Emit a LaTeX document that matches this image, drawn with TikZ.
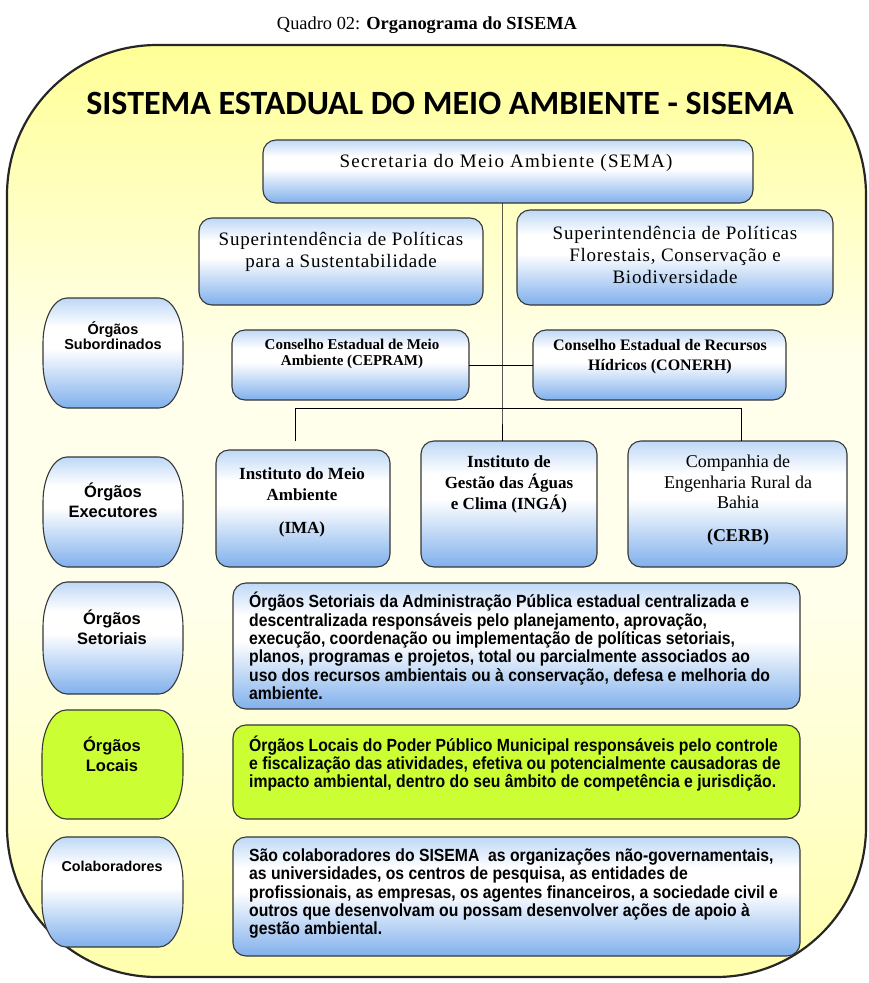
\documentclass[tikz,border=0pt]{standalone}
\usepackage{fontspec}
\setmainfont{Liberation Serif}
\newfontfamily\capfont{Liberation Serif}
\newfontfamily\ttlfont{Carlito}
\newfontfamily\serfont[LetterSpace=4]{Liberation Serif}
\newfontfamily\serwide[LetterSpace=7]{Liberation Serif}
\newfontfamily\narfont[FakeStretch=0.895]{Liberation Sans}
\newfontfamily\sansfont{Liberation Sans}
\usetikzlibrary{calc}
\definecolor{bT}{RGB}{190,216,246}
\definecolor{bB}{RGB}{128,176,236}
\definecolor{yT}{RGB}{255,255,150}
\definecolor{yM}{RGB}{255,255,236}
\definecolor{yB}{RGB}{255,255,172}
\definecolor{grn}{RGB}{204,255,51}
\definecolor{edge}{RGB}{55,55,55}
\pgfdeclareverticalshading{boxblue}{100bp}{color(0bp)=(bB); color(25bp)=(bB); color(52bp)=(white); color(62bp)=(white); color(75bp)=(bT); color(100bp)=(bT)}
\pgfdeclareverticalshading{bgyel}{100bp}{color(0bp)=(yB); color(25bp)=(yB); color(45bp)=(yM); color(58bp)=(yM); color(75bp)=(yT); color(100bp)=(yT)}
\newcommand\placebox[6]{\node[#1, minimum width={#5pt-#3pt}, minimum height={#6pt-#4pt}] (#2) at ({(#3+#5)/2},{(#4+#6)/2}) {};}
\newcommand\barrelpath[2]{%
  \path[#2] let \p1=(#1.north west), \p2=(#1.south east) in
    (\x1+24pt,\y1) -- (\x2-24pt,\y1)
    .. controls (\x2-10.8pt,\y1) and (\x2,\y1-20.2pt) .. (\x2,\y1-45pt)
    -- (\x2,\y2+45pt)
    .. controls (\x2,\y2+20.2pt) and (\x2-10.8pt,\y2) .. (\x2-24pt,\y2)
    -- (\x1+24pt,\y2)
    .. controls (\x1+10.8pt,\y2) and (\x1,\y2+20.2pt) .. (\x1,\y2+45pt)
    -- (\x1,\y1-45pt)
    .. controls (\x1,\y1-20.2pt) and (\x1+10.8pt,\y1) .. cycle;}
\tikzset{
  frame/.style={draw=black!85, line width=2.2pt, shading=bgyel, rounded corners=150pt, inner sep=0pt, outer sep=0pt},
  bluebox/.style={draw=edge, line width=1.1pt, shading=boxblue, rounded corners=13pt, inner sep=0pt, outer sep=0pt},
  greenbox/.style={draw=edge, line width=1.1pt, fill=grn, rounded corners=13pt, inner sep=0pt, outer sep=0pt},
  barrelnode/.style={inner sep=0pt, outer sep=0pt},
  barrelblue/.style={draw=edge, line width=1.1pt, shading=boxblue},
  barrelgreen/.style={draw=edge, line width=1.1pt, fill=grn},
  conn/.style={draw=black, line width=0.9pt},
  sertxt/.style={font=\serfont\fontsize{19}{22.5}\selectfont, align=center, inner sep=0pt},
  bsertxt/.style={font=\capfont\bfseries\fontsize{17}{21}\selectfont, align=center, inner sep=0pt},
  lbltxt/.style={font=\sansfont\bfseries\fontsize{16.5}{20}\selectfont, align=center, inner sep=0pt},
  desctxt/.style={font=\narfont\bfseries\fontsize{17.6}{18.4}\selectfont, align=left, inner sep=0pt, anchor=west},
}
\begin{document}
\begin{tikzpicture}[x=1pt,y=-1pt]
\useasboundingbox (0,0) rectangle (869,983);
\fill[white] (0,0) rectangle (869,983);
% caption
\node[inner sep=0pt, font=\capfont\fontsize{18.4}{20}\selectfont] (caption) at (427,25) {Quadro 02: \textbf{Organograma do SISEMA}};
% frame
\placebox{frame}{frame}{7}{45}{866}{977}
\node[inner sep=0pt, font=\ttlfont\bfseries\fontsize{34}{36}\selectfont] (title) at (440,103) {SISTEMA ESTADUAL DO MEIO AMBIENTE - SISEMA};
% boxes
\placebox{bluebox}{sema}{263}{140}{753}{203}
\placebox{bluebox}{sust}{199}{218}{483}{305}
\placebox{bluebox}{flor}{517}{210}{833}{305}
\placebox{bluebox}{cepram}{232}{330}{469}{400}
\placebox{bluebox}{conerh}{533}{330}{786}{400}
\placebox{bluebox}{ima}{216}{450}{390}{567}
\placebox{bluebox}{inga}{421}{441}{597}{567}
\placebox{bluebox}{cerb}{628}{441}{847}{567}
\placebox{bluebox}{setor}{233}{583}{800}{709}
\placebox{greenbox}{locais}{233}{725}{800}{819}
\placebox{bluebox}{colab}{233}{837}{800}{956}
% left column
\placebox{barrelnode}{lsub}{43}{298}{183}{408}
\placebox{barrelnode}{lexe}{43}{457}{183}{567}
\placebox{barrelnode}{lset}{43}{582}{183}{694}
\placebox{barrelnode}{lloc}{42}{710}{183}{819}
\placebox{barrelnode}{lcol}{42}{837}{183}{947}
\barrelpath{lsub}{barrelblue}
\barrelpath{lexe}{barrelblue}
\barrelpath{lset}{barrelblue}
\barrelpath{lloc}{barrelgreen}
\barrelpath{lcol}{barrelblue}
% connectors
\coordinate (trunk) at (502,408);
\coordinate (barL) at (295,408);
\coordinate (barR) at (741,408);
\coordinate (imaTop) at (295,441);
\draw[conn] (sema.south -| trunk) -- (trunk) -- (inga.north -| trunk);
\draw[conn] (imaTop) -- (barL) -- (barR) -- (cerb.north -| barR);
\draw[conn] (cepram.east) -- (conerh.west);
% texts
\node[font=\serwide\fontsize{19}{22}\selectfont, inner sep=0pt] (sema-t) at (506,163) {Secretaria do Meio Ambiente (SEMA)};
\node[sertxt] (sust-t) at (341,252) {Superintendência de Políticas\\para a Sustentabilidade};
\node[sertxt, font=\serfont\fontsize{19}{22}\selectfont] (flor-t) at (675,255) {Superintendência de Políticas\\Florestais, Conservação e\\Biodiversidade};
\node[bsertxt, font=\capfont\bfseries\fontsize{15}{16}\selectfont] (cepram-t) at (352,354) {Conselho Estadual de Meio\\Ambiente (CEPRAM)};
\node[bsertxt, font=\capfont\bfseries\fontsize{16}{20}\selectfont] (conerh-t) at (660,357) {Conselho Estadual de Recursos\\Hídricos (CONERH)};
\node[bsertxt] (ima-t) at (302,502) {Instituto do Meio\\Ambiente\\[12pt](IMA)};
\node[bsertxt] (inga-t) at (509,484) {Instituto de\\Gestão das Águas\\e Clima (INGÁ)};
\node[sertxt, font=\capfont\fontsize{18}{20.5}\selectfont] (cerb-t) at (738,500) {Companhia de\\Engenharia Rural da\\Bahia\\[12pt]\textbf{(CERB)}};
\node[lbltxt, font=\sansfont\bfseries\fontsize{14.5}{15}\selectfont] (lsub-t) at (113,335.5) {Órgãos\\Subordinados};
\node[lbltxt] (lexe-t) at (113,500) {Órgãos\\Executores};
\node[lbltxt] (lset-t) at (112,627) {Órgãos\\Setoriais};
\node[lbltxt] (lloc-t) at (112,754) {Órgãos\\Locais};
\node[lbltxt, font=\sansfont\bfseries\fontsize{14.3}{15}\selectfont] (lcol-t) at (112,866) {Colaboradores};
\node[desctxt] (setor-t) at (249,646) {Órgãos Setoriais da Administração Pública estadual centralizada e\\descentralizada responsáveis pelo planejamento, aprovação,\\execução, coordenação ou implementação de políticas setoriais,\\planos, programas e projetos, total ou parcialmente associados ao\\uso dos recursos ambientais ou à conservação, defesa e melhoria do\\ambiente.};
\node[desctxt] (locais-t) at (249,763.5) {Órgãos Locais do Poder Público Municipal responsáveis pelo controle\\e fiscalização das atividades, efetiva ou potencialmente causadoras de\\impacto ambiental, dentro do seu âmbito de competência e jurisdição.};
\node[desctxt] (colab-t) at (249,893.5) {São colaboradores do SISEMA\ \ as organizações não-governamentais,\\as universidades, os centros de pesquisa, as entidades de\\profissionais, as empresas, os agentes financeiros, a sociedade civil e\\outros que desenvolvam ou possam desenvolver ações de apoio à\\gestão ambiental.};
\end{tikzpicture}
\end{document}
